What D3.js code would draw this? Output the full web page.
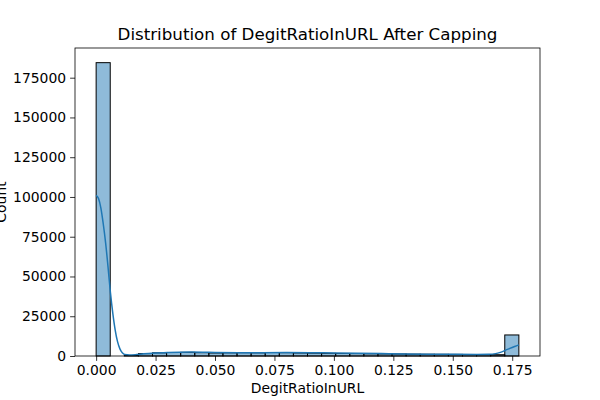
<!DOCTYPE html>
<html>
<head>
<meta charset="utf-8">
<script src="https://cdn.jsdelivr.net/npm/d3@7"></script>
<style>
body { margin: 0; background: #fff; }
text { font-family: "DejaVu Sans", sans-serif; fill: #000; }
</style>
</head>
<body>
<svg id="chart" width="600" height="400"></svg>
<script>
// histogram: 30 bins from 0 to max value
var xMax = 0.1778;
var binCounts = [184450, 0, 300, 1500, 2000, 2200, 2300, 2100, 1900, 2000,
                 2100, 2000, 2200, 2100, 1900, 1800, 1700, 1600, 1500, 1400,
                 1300, 1250, 1150, 1100, 1050, 1000, 950, 900, 800, 13230];

// kde curve
var kdeX = [0, 0.001, 0.002, 0.003, 0.004, 0.005, 0.006, 0.007, 0.008, 0.009,
            0.010, 0.011, 0.012, 0.014, 0.017, 0.020, 0.025, 0.030, 0.035, 0.040,
            0.045, 0.050, 0.060, 0.070, 0.080, 0.090, 0.100, 0.110, 0.120, 0.130,
            0.140, 0.150, 0.160, 0.165, 0.168, 0.170, 0.172, 0.174, 0.176, 0.1778];
var kdeY = [101000, 99000, 93000, 83000, 71000, 56000, 40000, 27000, 16500, 9000,
            4500, 2000, 900, 600, 900, 1400, 1900, 2200, 2400, 2500,
            2400, 2200, 2100, 2100, 2200, 2100, 1900, 1700, 1500, 1300,
            1150, 1050, 1000, 1100, 1500, 2300, 3500, 4800, 6000, 7000];

var xTicks = [0, 0.025, 0.05, 0.075, 0.1, 0.125, 0.15, 0.175];
var yTicks = [0, 25000, 50000, 75000, 100000, 125000, 150000, 175000];

var plotL = 75, plotR = 540, plotT = 48, plotB = 356;
var svg = d3.select("#chart");

var x = d3.scaleLinear()
    .domain([-xMax * 0.05, xMax * 1.05])
    .range([plotL, plotR]);
var yMax = d3.max(binCounts) * 1.05;
var y = d3.scaleLinear().domain([0, yMax]).range([plotB, plotT]);

var bw = xMax / binCounts.length;

// bars
svg.append("g").selectAll("rect")
    .data(binCounts)
    .join("rect")
    .attr("x", function(d, i) { return x(i * bw); })
    .attr("y", function(d) { return y(d); })
    .attr("width", function(d, i) { return x((i + 1) * bw) - x(i * bw); })
    .attr("height", function(d) { return plotB - y(d); })
    .attr("fill", "rgba(31,119,180,0.5)")
    .attr("stroke", "#000")
    .attr("stroke-width", 1);

// kde line
var line = d3.line()
    .x(function(d, i) { return x(kdeX[i]); })
    .y(function(d) { return y(d); })
    .curve(d3.curveMonotoneX);
svg.append("path")
    .datum(kdeY)
    .attr("d", line)
    .attr("fill", "none")
    .attr("stroke", "#1f77b4")
    .attr("stroke-width", 1.5);

// axes
var xAxis = d3.axisBottom(x).tickValues(xTicks).tickFormat(d3.format(".3f"))
    .tickSizeInner(4.9).tickSizeOuter(0).tickPadding(4);
var gx = svg.append("g").attr("transform", "translate(0," + plotB + ")").call(xAxis);
var yAxis = d3.axisLeft(y).tickValues(yTicks).tickFormat(d3.format("d"))
    .tickSizeInner(4.9).tickSizeOuter(0).tickPadding(4);
var gy = svg.append("g").attr("transform", "translate(" + plotL + ",0)").call(yAxis);

[gx, gy].forEach(function(g) {
    g.select(".domain").remove();
    g.selectAll("line").attr("stroke", "#000").attr("stroke-width", 0.8);
    g.selectAll("text").attr("font-size", "13.9px").attr("font-family", "DejaVu Sans");
});

// frame
svg.append("rect")
    .attr("x", plotL).attr("y", plotT)
    .attr("width", plotR - plotL).attr("height", plotB - plotT)
    .attr("fill", "none").attr("stroke", "#000").attr("stroke-width", 0.8);

// labels
svg.append("text")
    .attr("x", (plotL + plotR) / 2).attr("y", 40)
    .attr("text-anchor", "middle").attr("font-size", "16.7px")
    .text("Distribution of DegitRatioInURL After Capping");
svg.append("text")
    .attr("x", (plotL + plotR) / 2).attr("y", 393)
    .attr("text-anchor", "middle").attr("font-size", "13.9px")
    .text("DegitRatioInURL");
svg.append("text")
    .attr("transform", "translate(5.5," + (plotT + plotB) / 2 + ") rotate(-90)")
    .attr("text-anchor", "middle").attr("font-size", "13.9px")
    .text("Count");
</script>
</body>
</html>
